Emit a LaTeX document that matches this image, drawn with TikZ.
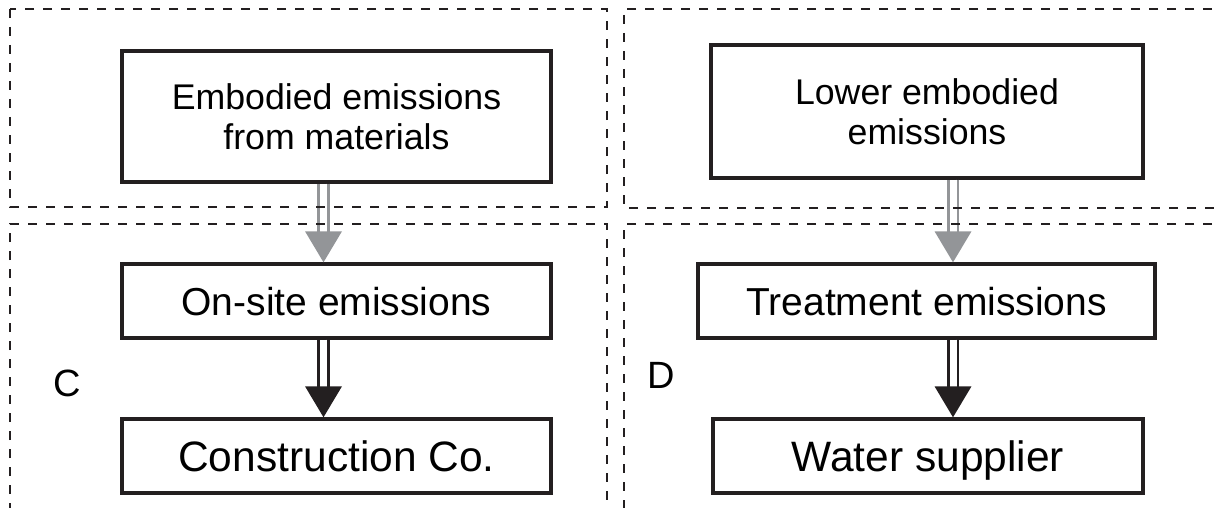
\documentclass[tikz,border=0pt]{standalone}
\usepackage{fontspec}
\setmainfont{Liberation Sans}
\definecolor{ink}{HTML}{231F20}
\definecolor{arrowgray}{HTML}{939598}
\tikzset{
  panel/.style={draw=ink, line width=2pt, dash pattern=on 9pt off 9pt},
  stepbox/.style={draw=ink, line width=3.4pt, inner sep=0pt, fill=white, text=black, align=center},
  topbox/.style={stepbox, font=\fontsize{35.7}{39.5}\selectfont},
  midbox/.style={stepbox, minimum height=74pt, font=\fontsize{39}{42}\selectfont, text height=28pt, text depth=0pt},
  lowbox/.style={stepbox, minimum height=74pt, font=\fontsize{42.5}{45}\selectfont, text height=30.4pt, text depth=0pt},
  caselabel/.style={inner sep=0pt, text=black, font=\fontsize{38}{40}\selectfont, text height=27.2pt, text depth=0pt},
}
% double-lined connector with a solid triangular head
\newcommand{\flowarrow}[4]{%
  \draw[line width=2.6pt, draw=#1, double=white, double distance=7pt, shorten >=30pt]
    (#2.south -| #4) -- (#3.north -| #4);
  \fill[#1] (#3.north -| #4) -- ++(-18.5,-31) -- ++(37,0) -- cycle;
}
\begin{document}
\begin{tikzpicture}[x=1pt, y=-1pt]
  \useasboundingbox (0,0) rectangle (1217,508);
  \clip (0,0) rectangle (1217,508);

  % boxes
  \node[topbox, minimum width=429pt, minimum height=131pt] (emb) at (336.5,116.5)
    {Embodied emissions\\from materials};
  \node[topbox, minimum width=432pt, minimum height=133pt] (low) at (927,111.5)
    {Lower embodied\\emissions};
  \node[midbox, minimum width=429pt] (ons) at (336.5,301) {On-site emissions};
  \node[midbox, minimum width=457pt] (trt) at (926.5,301) {Treatment emissions};
  \node[lowbox, minimum width=429pt] (con) at (336.5,456) {Construction Co.};
  \node[lowbox, minimum width=430pt] (wat) at (928,456) {Water supplier};

  % case labels
  \node[caselabel] (lc) at (67,383) {C};
  \node[caselabel] (ld) at (661,375) {D};

  % connector columns
  \coordinate (axL) at (323.5,0);
  \coordinate (axR) at (953,0);

  \flowarrow{arrowgray}{emb}{ons}{axL}
  \flowarrow{ink}{ons}{con}{axL}
  \flowarrow{arrowgray}{low}{trt}{axR}
  \flowarrow{ink}{trt}{wat}{axR}

  % dashed panels
  \draw[panel] (10,9) rectangle (607,207);
  \draw[panel] (1230,9) -- (624,9) -- (624,208) -- (1230,208);
  \draw[panel] (10,530) -- (10,224) -- (607,224) -- (607,530);
  \draw[panel] (1230,224) -- (624,224) -- (624,530);
\end{tikzpicture}
\end{document}
